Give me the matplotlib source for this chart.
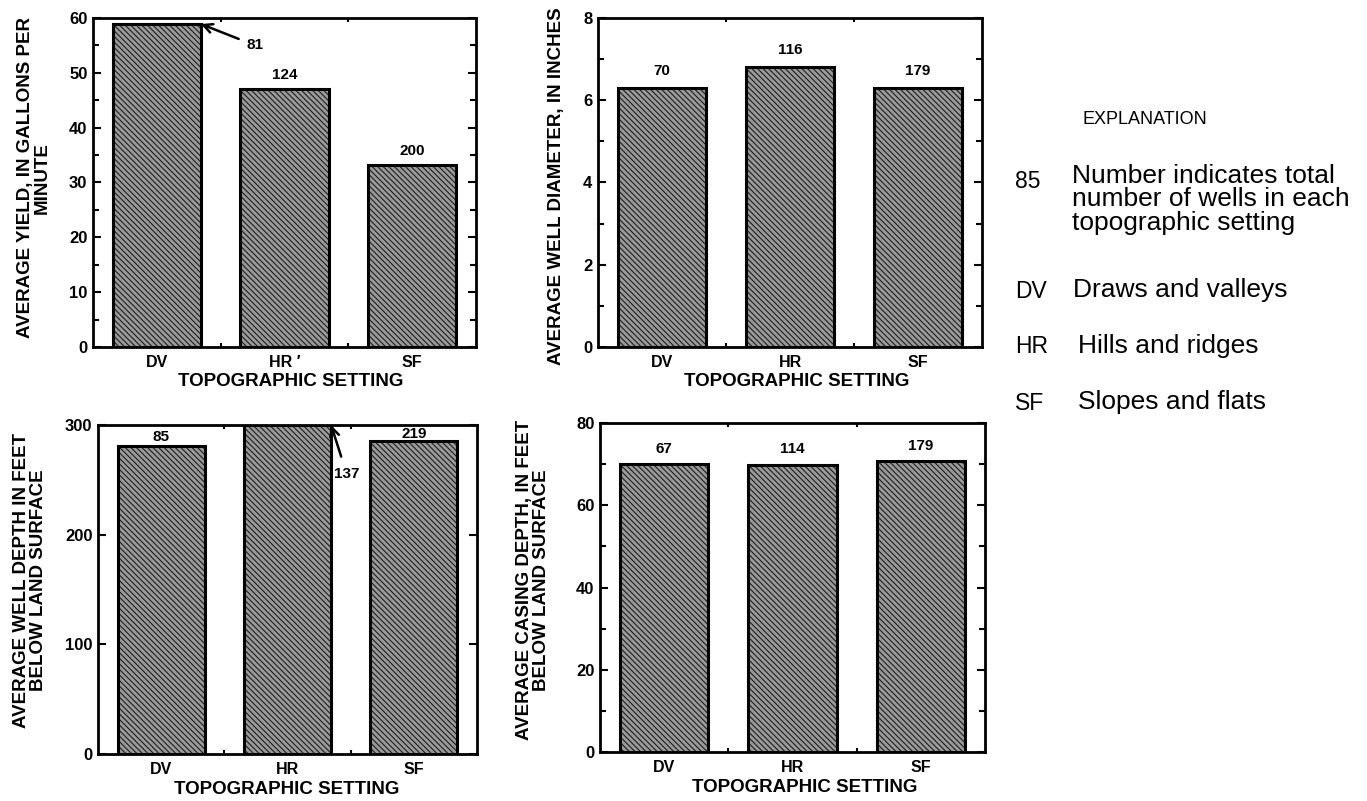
import matplotlib
matplotlib.use("Agg")
import matplotlib.pyplot as plt
from matplotlib.ticker import MultipleLocator, FixedLocator

plt.rcParams['font.family'] = ['Liberation Sans', 'DejaVu Sans']
plt.rcParams['hatch.linewidth'] = 0.8

# ---------------- data ----------------
settings = ["DV", "HR", "SF"]
tl_ticklabels = ["DV", "HR \u2032", "SF"]

yield_gpm = [58.9, 47.1, 33.2]
yield_n = [81, 124, 200]

diameter_in = [6.30, 6.81, 6.30]
diameter_n = [70, 116, 179]

depth_ft = [281, 300, 285]
depth_n = [85, 137, 219]

casing_ft = [70.0, 69.9, 70.8]
casing_n = [67, 114, 179]

W, H = 1367, 801
fig = plt.figure(figsize=(W / 100, H / 100), dpi=100)


def px_axes(left, right, top, bottom):
    return fig.add_axes([left / W, (H - bottom) / H, (right - left) / W, (bottom - top) / H])


def style_axes(ax, ymax, major, minor, xlabels):
    ax.set_xlim(-0.5, 2.5)
    ax.set_ylim(0, ymax)
    for s in ax.spines.values():
        s.set_linewidth(2.0)
    ax.yaxis.set_major_locator(MultipleLocator(major))
    if minor:
        ax.yaxis.set_minor_locator(MultipleLocator(minor))
    ax.tick_params(axis='y', which='both', direction='in', left=True, right=True,
                   width=1.5, labelsize=12, pad=4)
    ax.tick_params(axis='y', which='major', length=6)
    ax.tick_params(axis='y', which='minor', length=4)
    for lab in ax.get_yticklabels():
        lab.set_fontweight('bold')
    ax.set_xticks(range(len(settings)))
    ax.set_xticklabels(xlabels, fontweight='bold', fontsize=11.5)
    ax.xaxis.set_minor_locator(FixedLocator([0.5, 1.5]))
    ax.tick_params(axis='x', which='major', length=0, pad=6)
    ax.tick_params(axis='x', which='minor', direction='in', top=True, bottom=True,
                   length=3, width=1.5)


def draw_bars(ax, values):
    x = list(range(len(values)))
    ax.bar(x, values, width=0.69, color='#9a9a9a', hatch='\\\\\\\\\\\\',
           edgecolor='#1e1e1e', linewidth=0, zorder=2)
    ax.bar(x, values, width=0.69, fill=False, edgecolor='black', linewidth=2.2, zorder=3)


arrow_kw = dict(arrowstyle='->', lw=1.8, color='black', shrinkB=0, mutation_scale=16)

# ---------- top-left: yield ----------
ax1 = px_axes(93, 476, 18, 347)
draw_bars(ax1, yield_gpm)
style_axes(ax1, 60, 10, 5, tl_ticklabels)
ax1.annotate(str(yield_n[0]), xy=(0.345, yield_gpm[0]), xytext=(0.77, 55.0),
             fontsize=11, fontweight='bold', ha='center', va='center',
             arrowprops=dict(shrinkA=4, **arrow_kw))
for i in (1, 2):
    ax1.text(i, yield_gpm[i] + 1.2, str(yield_n[i]), ha='center', va='bottom',
             fontsize=11, fontweight='bold')

# ---------- top-right: diameter ----------
ax2 = px_axes(598, 982, 18, 347)
draw_bars(ax2, diameter_in)
style_axes(ax2, 8, 2, 1, settings)
for i in range(3):
    ax2.text(i, diameter_in[i] + 0.25, str(diameter_n[i]), ha='center', va='bottom',
             fontsize=11, fontweight='bold')

# ---------- bottom-left: depth ----------
ax3 = px_axes(98, 477, 425, 754)
draw_bars(ax3, depth_ft)
style_axes(ax3, 300, 100, None, settings)
ax3.annotate(str(depth_n[1]), xy=(1.345, depth_ft[1]), xytext=(1.47, 255),
             fontsize=11, fontweight='bold', ha='center', va='center',
             arrowprops=dict(shrinkA=6, **arrow_kw))
ax3.text(0, depth_ft[0] + 1.5, str(depth_n[0]), ha='center', va='bottom',
         fontsize=11, fontweight='bold')
ax3.text(2, depth_ft[2] + 0.5, str(depth_n[2]), ha='center', va='bottom',
         fontsize=11, fontweight='bold')

# ---------- bottom-right: casing ----------
ax4 = px_axes(600, 985, 423, 752)
draw_bars(ax4, casing_ft)
style_axes(ax4, 80, 20, 10, settings)
for i in range(3):
    ax4.text(i, casing_ft[i] + 2.0, str(casing_n[i]), ha='center', va='bottom',
             fontsize=11, fontweight='bold')

# ---------- axis titles ----------
lab_kw = dict(fontsize=13.5, fontweight='bold', ha='center', va='center',
              rotation=90, linespacing=1.0, multialignment='center')
fig.text(34 / W, 1 - 178 / H, "AVERAGE YIELD, IN GALLONS PER\nMINUTE", **lab_kw)
fig.text(557 / W, 1 - 186 / H, "AVERAGE WELL DIAMETER, IN INCHES", **lab_kw)
fig.text(30 / W, 1 - 580 / H, "AVERAGE WELL DEPTH IN FEET\nBELOW LAND SURFACE", **lab_kw)
fig.text(533 / W, 1 - 580 / H, "AVERAGE CASING DEPTH, IN FEET\nBELOW LAND SURFACE", **lab_kw)

xl_kw = dict(fontsize=13.5, fontweight='bold', ha='center', va='center')
fig.text(291 / W, 1 - 381 / H, "TOPOGRAPHIC SETTING", **xl_kw)
fig.text(797 / W, 1 - 381 / H, "TOPOGRAPHIC SETTING", **xl_kw)
fig.text(287 / W, 1 - 789 / H, "TOPOGRAPHIC SETTING", **xl_kw)
fig.text(805 / W, 1 - 788 / H, "TOPOGRAPHIC SETTING", **xl_kw)

# ---------- explanation ----------
fig.text(1083 / W, 1 - 120 / H, "EXPLANATION", fontsize=13, ha='left', va='center')
code_kw = dict(fontsize=16.5, ha='left', va='center')
desc_kw = dict(fontsize=19, ha='left', va='center')
fig.text(1015 / W, 1 - 182 / H, "85", **code_kw)
fig.text(1072 / W, 1 - 176 / H, "Number indicates total", **desc_kw)
fig.text(1072 / W, 1 - 199 / H, "number of wells in each", **desc_kw)
fig.text(1072 / W, 1 - 223 / H, "topographic setting", **desc_kw)
fig.text(1015 / W, 1 - 291 / H, "DV", **code_kw)
fig.text(1073 / W, 1 - 290 / H, "Draws and valleys", **desc_kw)
fig.text(1015 / W, 1 - 347 / H, "HR", **code_kw)
fig.text(1078 / W, 1 - 346 / H, "Hills and ridges", **desc_kw)
fig.text(1015 / W, 1 - 403 / H, "SF", **code_kw)
fig.text(1078 / W, 1 - 402 / H, "Slopes and flats", **desc_kw)

fig.savefig("out.png", dpi=100)
